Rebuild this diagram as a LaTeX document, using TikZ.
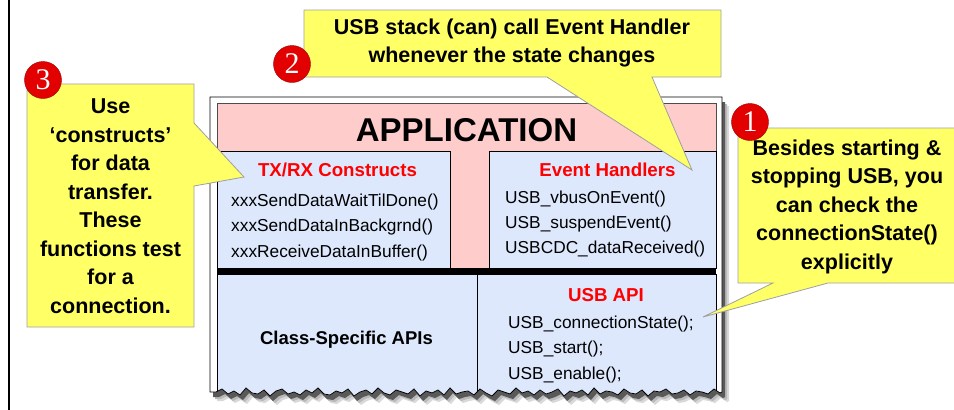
\documentclass[tikz,border=0pt]{standalone}
\usepackage{fontspec}
\setmainfont{Liberation Sans}
\newfontfamily\digitfont{Liberation Serif}
\definecolor{cyellow}{RGB}{255,255,102}
\definecolor{appink}{RGB}{255,204,204}
\definecolor{apblue}{RGB}{221,232,252}
\definecolor{hred}{RGB}{255,0,0}
\definecolor{bred}{RGB}{226,0,0}
\def\tornlist{0,-3,2,-1,3,-4,1,2,-2,4,-1,-3,2,0,3,-2,1,-4,2,3,-1,1,-3,4,0,-2,2,-4,1,3,-2,0,2,-3,4,-1,1,-2,3,-4,2,0,-1,3,-3,1,4,-2,0,2,-4,1,-1,3,-2,2,0,-3,4,-1,1,-2,3,-4,2,-1,0,3,-3,1,2,-2,4,-1,0,-3,2,1,-2,3,-1,0,2,-3,1}
\begin{document}
\begin{tikzpicture}[x=1pt,y=-1pt,
  callout/.style={fill=cyellow, draw=gray!75, line width=0.8pt},
  badge/.style={circle, fill=bred, draw=red!60!black, line width=0.4pt, minimum size=37pt, inner sep=0pt, text=white, font=\digitfont\fontsize{30}{30}\selectfont},
  calltext/.style={align=center, inner sep=0pt, font=\bfseries\fontsize{21.5}{28.5}\selectfont},
  headtext/.style={text=hred, inner sep=0pt, font=\bfseries\fontsize{18.7}{20}\selectfont},
  fntext/.style={anchor=base west, inner sep=0pt, font=\fontsize{17.3}{20}\selectfont},
  boxline/.style={draw=black, line width=0.7pt}]
\useasboundingbox (0,0) rectangle (954,410);
% frame line
\draw[line width=1.2pt] (9,-2) -- (9,412);
% shadows of the outer box
\fill[gray!30, shift={(7,9)}] (210,97) -- (210,392) \foreach \d [count=\i] in \tornlist { -- ({210+6*\i},{392+\d}) } -- (722,392) -- (722,97) -- cycle;
\fill[gray!55, shift={(5,7)}] (210,97) -- (210,392) \foreach \d [count=\i] in \tornlist { -- ({210+6*\i},{392+\d}) } -- (722,392) -- (722,97) -- cycle;
\fill[gray!70!black, shift={(3,5)}] (210,97) -- (210,392) \foreach \d [count=\i] in \tornlist { -- ({210+6*\i},{392+\d}) } -- (722,392) -- (722,97) -- cycle;
% outer box
\begin{scope}
\path[clip] (210,97) -- (210,392) \foreach \d [count=\i] in \tornlist { -- ({210+6*\i},{392+\d}) } -- (722,392) -- (722,97) -- cycle;
\fill[white] (205,90) rectangle (730,410);
\filldraw[fill=appink, draw=gray!60!black, line width=0.7pt] (217,103) rectangle (716,268);
\filldraw[fill=apblue, boxline] (217,151) rectangle (450,268);
\filldraw[fill=apblue, boxline] (489,151) rectangle (716,268);
\filldraw[fill=apblue, boxline] (217,274) rectangle (477,420);
\filldraw[fill=apblue, boxline] (477,274) rectangle (716,420);
\draw[line width=6pt] (217,271) -- (716,271);
\end{scope}
\draw[line width=0.8pt] (210,97) -- (210,392) \foreach \d [count=\i] in \tornlist { -- ({210+6*\i},{392+\d}) } -- (722,392) -- (722,97) -- cycle;
% texts in the stack
\node[inner sep=0pt, font=\bfseries\fontsize{33}{33}\selectfont] (app) at (466.5,130) {APPLICATION};
\node[headtext] (txrx) at (337.5,170) {TX/RX Constructs};
\node[fntext] (tx1) at (231,206) {xxxSendDataWaitTilDone()};
\node[fntext] (tx2) at (231,231) {xxxSendDataInBackgrnd()};
\node[fntext] (tx3) at (231,257) {xxxReceiveDataInBuffer()};
\node[headtext] (evh) at (607.5,170) {Event Handlers};
\node[fntext] (ev1) at (505,203) {USB\_vbusOnEvent()};
\node[fntext] (ev2) at (505,228) {USB\_suspendEvent()};
\node[fntext] (ev3) at (505,253) {USBCDC\_dataReceived()};
\node[inner sep=0pt, font=\bfseries\fontsize{18.5}{20}\selectfont] (cls) at (346.5,340) {Class-Specific APIs};
\node[headtext] (usbapi) at (606,295) {USB API};
\node[fntext] (ua1) at (508,328) {USB\_connectionState();};
\node[fntext] (ua2) at (508,353) {USB\_start();};
\node[fntext] (ua3) at (508,379) {USB\_enable();};
% callouts
\filldraw[callout] (304,10) -- (721,10) -- (721,77) -- (652,77) -- (692,170) -- (547,77) -- (304,77) -- cycle;
\node[calltext] (c2) at (512,43) {USB stack (can) call Event Handler\\whenever the state changes};
\filldraw[callout] (27,84) -- (194,84) -- (194,123) -- (244,177) -- (194,186) -- (194,327) -- (27,327) -- cycle;
\node[calltext] (c3) at (110.5,206) {Use\\‘constructs’\\for data\\transfer.\\These\\functions test\\for a\\connection.};
\filldraw[callout] (738,128) -- (958,128) -- (958,283) -- (828,283) -- (703,317) -- (773,283) -- (738,283) -- cycle;
\node[calltext] (c1) at (847,206.5) {Besides starting \&\\stopping USB, you\\can check the\\connectionState()\\explicitly};
% badges
\node[badge] (b2) at (292,64) {2};
\node[badge] (b3) at (43,80) {3};
\node[badge] (b1) at (750,122) {1};
\end{tikzpicture}
\end{document}
